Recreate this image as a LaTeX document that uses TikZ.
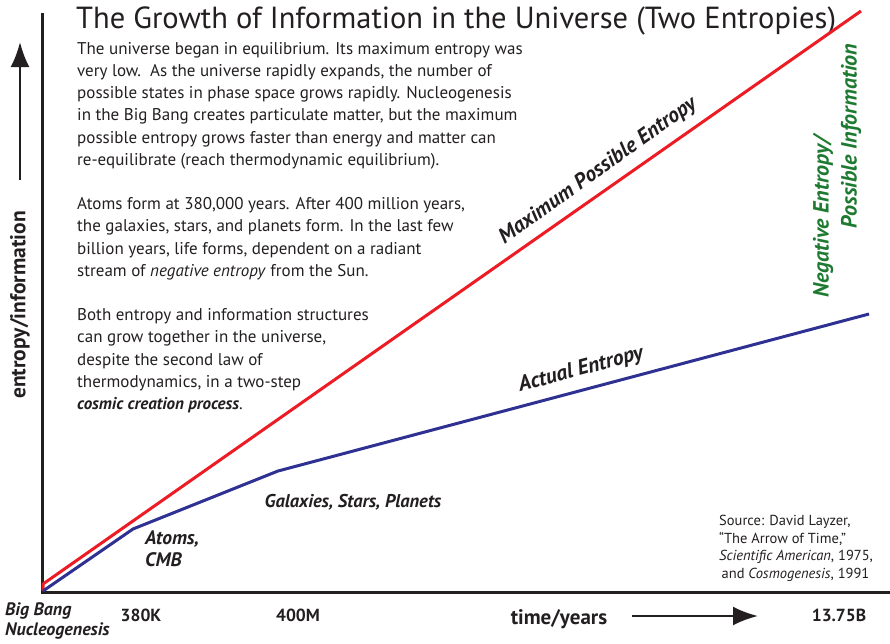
\documentclass[tikz,border=0pt]{standalone}
\usepackage{fontspec}
\setmainfont{PT Sans}
\usetikzlibrary{arrows.meta}
\definecolor{ink}{HTML}{231F20}
\definecolor{maxred}{HTML}{ED1C24}
\definecolor{actblue}{HTML}{2E3192}
\definecolor{negreen}{HTML}{1E7A30}

\begin{document}
\begin{tikzpicture}[x=1pt,y=-1pt,>={Latex[length=25pt,width=19pt]},
	every node/.style={text=ink,inner sep=0pt},
	body/.style={font=\fontsize{17}{22.2}\selectfont,align=left},
	lbl/.style={font=\fontsize{18.5}{22}\selectfont\bfseries\itshape},
	tick/.style={font=\fontsize{17.5}{20}\selectfont\bfseries},
	curve/.style={line width=3pt,line join=round}]
	\useasboundingbox (0,0) rectangle (890,643);

	% Axes
	\coordinate (top) at (42,13);
	\coordinate (o) at (42,592);
	\coordinate (right) at (890,592);
	\draw[ink,line width=3pt] (top) -- (o) -- (right);

	% Axis arrows
	\coordinate (ya0) at (20,180);
	\coordinate (ya1) at (20,42);
	\draw[->,ink,line width=2.5pt] (ya0) -- (ya1);
	\node[font=\fontsize{21.5}{22}\selectfont\bfseries,rotate=90] (ylabel) at (20,305) {entropy/information};
	\node[font=\fontsize{21}{22}\selectfont\bfseries] (xlabel) at (559,619) {time/years};
	\coordinate (xa0) at (632,616);
	\coordinate (xa1) at (758,616);
	\draw[->,ink,line width=2.5pt] (xa0) -- (xa1);

	% Title and text
	\node[font=\fontsize{30.5}{32}\selectfont,anchor=base west] (title) at (76,28)
		{The Growth of Information in the Universe (Two Entropies)};
	\node[body,anchor=north west] (story) at (77,42) {%
		The universe began in equilibrium. Its maximum entropy was\\
		very low.~~As the universe rapidly expands, the number of\\
		possible states in phase space grows rapidly. Nucleogenesis\\
		in the Big Bang creates particulate matter, but the maximum\\
		possible entropy grows faster than energy and matter can\\
		re-equilibrate (reach thermodynamic equilibrium).\\[22.2pt]
		Atoms form at 380,000 years. After 400 million years,\\
		the galaxies, stars, and planets form. In the last few\\
		billion years, life forms, dependent on a radiant\\
		stream of \textit{negative entropy} from the Sun.\\[22.2pt]
		Both entropy and information structures\\
		can grow together in the universe,\\
		despite the second law of\\
		thermodynamics, in a two-step\\
		\textbf{\textit{cosmic creation process}}.};

	% Entropy curves
	\coordinate (r0) at (43,591);
	\coordinate (r1) at (43,584);
	\coordinate (r2) at (861,11);
	\coordinate (b0) at (43,591);
	\coordinate (b1) at (133,529);
	\coordinate (b2) at (278,471);
	\coordinate (b3) at (869,314);
	\draw[maxred,curve] (r0) -- (r1) -- (r2);
	\draw[actblue,curve] (b0) -- (b1) -- (b2) -- (b3);

	% Curve labels
	\node[lbl,font=\fontsize{21.5}{22}\selectfont\bfseries\itshape,rotate=35.5] (maxlabel) at (598,171) {Maximum Possible Entropy};
	\node[lbl,font=\fontsize{21.5}{22}\selectfont\bfseries\itshape,rotate=15] (actlabel) at (581,370) {Actual Entropy};
	\node[lbl,font=\fontsize{22}{22}\selectfont\bfseries\itshape,text=negreen,rotate=90] (neg1) at (823,217) {Negative Entropy/};
	\node[lbl,font=\fontsize{22}{22}\selectfont\bfseries\itshape,text=negreen,rotate=90] (neg2) at (851,136) {Possible Information};

	% Epochs
	\node[lbl,font=\fontsize{19.5}{22}\selectfont\bfseries\itshape,align=left,anchor=north west] (atoms) at (145,531) {Atoms,\\CMB};
	\node[lbl] (galaxies) at (353,502) {Galaxies, Stars, Planets};
	\node[lbl,font=\fontsize{18}{20.5}\selectfont\bfseries\itshape,align=left,anchor=north west] (bigbang) at (5,602) {Big Bang\\Nucleogenesis};
	\foreach \x/\t in {141/380K,298/400M,839/13.75B}
		\node[tick] (tick\x) at (\x,615) {\t};

	% Source
	\node[font=\fontsize{14.5}{17.5}\selectfont,align=left,anchor=north west] (source) at (719,515)
		{Source: David Layzer,\\
		``The Arrow of Time,''\\
		\textit{Scientific American}, 1975,\\
		\,and \textit{Cosmogenesis}, 1991};
\end{tikzpicture}
\end{document}
